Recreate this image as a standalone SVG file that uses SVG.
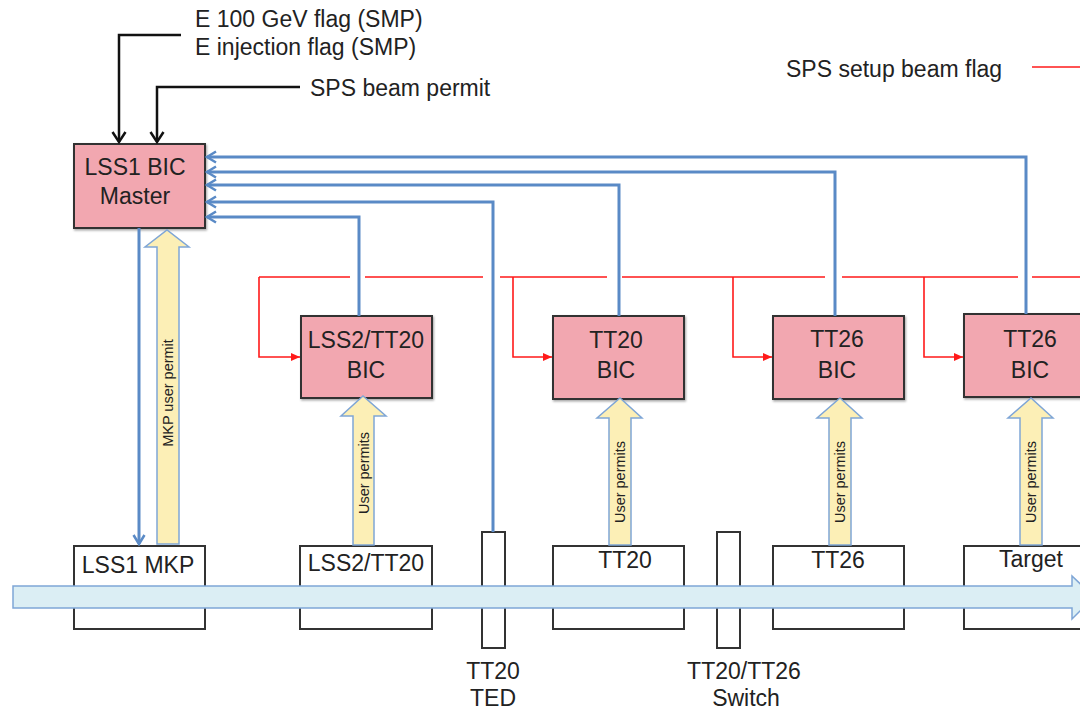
<svg xmlns="http://www.w3.org/2000/svg" width="1080" height="712" viewBox="0 0 1080 712">
<defs>
<style>
.t{font-family:"Liberation Sans",Arial,sans-serif;font-size:23px;fill:#222}
.tm{text-anchor:middle}
.ts{font-family:"Liberation Sans",Arial,sans-serif;font-size:14.5px;fill:#222;text-anchor:middle}
.bic{fill:#f2a7b0;stroke:#333;stroke-width:2}
.box{fill:#fff;stroke:#333;stroke-width:2}
.blue{fill:none;stroke:#5a8ac6;stroke-width:3}
.red{fill:none;stroke:#ff1a1a;stroke-width:1.6}
.blk{fill:none;stroke:#111;stroke-width:2.5}
.ya{fill:#fcefb6;stroke:#7fa6d6;stroke-width:1.5}
.beam{fill:#dbeef4;stroke:#7fa6d6;stroke-width:1.5}
</style>
<marker id="mb" markerWidth="14" markerHeight="14" refX="11" refY="7" orient="auto" markerUnits="userSpaceOnUse">
<path d="M2,1.5 L11,7 L2,12.5" fill="none" stroke="#5a8ac6" stroke-width="2.5"/>
</marker>
<marker id="mk" markerWidth="16" markerHeight="16" refX="12" refY="8" orient="auto" markerUnits="userSpaceOnUse">
<path d="M2,1.5 L12,8 L2,14.5" fill="none" stroke="#111" stroke-width="2.5"/>
</marker>
<marker id="mr" markerWidth="10" markerHeight="10" refX="9" refY="5" orient="auto" markerUnits="userSpaceOnUse">
<path d="M0,1 L9,5 L0,9 Z" fill="#ff1a1a"/>
</marker>
<filter id="sh" x="-10%" y="-10%" width="120%" height="120%">
<feDropShadow dx="1" dy="1.5" stdDeviation="1" flood-color="#000" flood-opacity="0.35"/>
</filter>
</defs>
<rect width="1080" height="712" fill="#fff"/>

<!-- top labels -->
<text class="t" x="195" y="27">E 100 GeV flag (SMP)</text>
<text class="t" x="195" y="55">E injection flag (SMP)</text>
<text class="t" x="310" y="96">SPS beam permit</text>
<text class="t" x="786" y="77">SPS setup beam flag</text>

<!-- bottom equipment -->
<g id="lss1mkp"><rect class="box" x="74" y="546" width="131" height="83"/><text class="t tm" x="138" y="573">LSS1 MKP</text></g>
<g id="lss2tt20"><rect class="box" x="300" y="546" width="132" height="83"/><text class="t tm" x="366" y="571">LSS2/TT20</text></g>
<g id="ted"><rect class="box" x="482" y="532" width="23" height="116"/><text class="t tm" x="493" y="679">TT20</text><text class="t tm" x="493" y="706">TED</text></g>
<g id="tt20"><rect class="box" x="553" y="546" width="131" height="83"/><text class="t tm" x="625" y="568">TT20</text></g>
<g id="switch"><rect class="box" x="717" y="532" width="23" height="116"/><text class="t tm" x="744" y="679">TT20/TT26</text><text class="t tm" x="746" y="706">Switch</text></g>
<g id="tt26"><rect class="box" x="773" y="546" width="131" height="83"/><text class="t tm" x="838" y="568">TT26</text></g>
<g id="target"><rect class="box" x="964" y="546" width="131" height="83"/><text class="t tm" x="1031" y="567">Target</text></g>

<!-- beam -->
<g id="beam"><path class="beam" d="M13,586 H1072 V576 L1094,597 L1072,619 V608 H13 Z"/></g>

<!-- BIC nodes -->
<g id="master"><rect class="bic" filter="url(#sh)" x="74" y="144" width="131" height="84"/><text class="t tm" x="135" y="175">LSS1 BIC</text><text class="t tm" x="135" y="204">Master</text></g>
<g id="bic-lss2"><rect class="bic" filter="url(#sh)" x="301" y="316" width="131" height="82"/><text class="t tm" x="366" y="348">LSS2/TT20</text><text class="t tm" x="366" y="378">BIC</text></g>
<g id="bic-tt20"><rect class="bic" filter="url(#sh)" x="553" y="316" width="131" height="83"/><text class="t tm" x="616" y="348">TT20</text><text class="t tm" x="616" y="378">BIC</text></g>
<g id="bic-tt26"><rect class="bic" filter="url(#sh)" x="773" y="316" width="131" height="83"/><text class="t tm" x="837" y="347">TT26</text><text class="t tm" x="837" y="378">BIC</text></g>
<g id="bic-tt26b"><rect class="bic" filter="url(#sh)" x="964" y="314" width="131" height="83"/><text class="t tm" x="1030" y="347">TT26</text><text class="t tm" x="1030" y="378">BIC</text></g>

<!-- connectors -->
<g id="connectors">
<path class="blk" d="M181,35 H119 V142" marker-end="url(#mk)"/>
<path class="blk" d="M300,87 H157 V142" marker-end="url(#mk)"/>

<path class="red" d="M1032,67 H1080"/>
<path class="red" d="M259,277 H350 M365,277 H483 M500,277 H607 M622,277 H825 M842,277 H1018 M1032,277 H1080"/>
<path class="red" d="M259,277 V357 H300" marker-end="url(#mr)"/>
<path class="red" d="M513,277 V357 H552" marker-end="url(#mr)"/>
<path class="red" d="M733,277 V357 H772" marker-end="url(#mr)"/>
<path class="red" d="M924,277 V357 H963" marker-end="url(#mr)"/>

<path class="blue" d="M1026,314 V157 H207" marker-end="url(#mb)"/>
<path class="blue" d="M835,316 V172 H207" marker-end="url(#mb)"/>
<path class="blue" d="M619,316 V185 H207" marker-end="url(#mb)"/>
<path class="blue" d="M493,532 V202 H207" marker-end="url(#mb)"/>
<path class="blue" d="M359,316 V217 H207" marker-end="url(#mb)"/>
<path class="blue" d="M139,228 V544" marker-end="url(#mb)"/>

<g id="ya-mkp"><path class="ya" d="M157,544 V247 H145 L167,230 L189,247 H179 V544 Z"/><text class="ts" transform="translate(173,393) rotate(-90)">MKP user permit</text></g>
<g id="ya-lss2"><path class="ya" d="M353,545 V416 H341 L363,396 L386,416 H374 V545 Z"/><text class="ts" transform="translate(369,473) rotate(-90)">User permits</text></g>
<g id="ya-tt20"><path class="ya" d="M609,545 V418 H597 L620,398 L642,418 H631 V545 Z"/><text class="ts" transform="translate(625,482) rotate(-90)">User permits</text></g>
<g id="ya-tt26"><path class="ya" d="M829,545 V418 H817 L840,398 L862,418 H851 V545 Z"/><text class="ts" transform="translate(845,482) rotate(-90)">User permits</text></g>
<g id="ya-target"><path class="ya" d="M1020,545 V418 H1008 L1031,398 L1053,418 H1042 V545 Z"/><text class="ts" transform="translate(1036,482) rotate(-90)">User permits</text></g>
</g>
</svg>
